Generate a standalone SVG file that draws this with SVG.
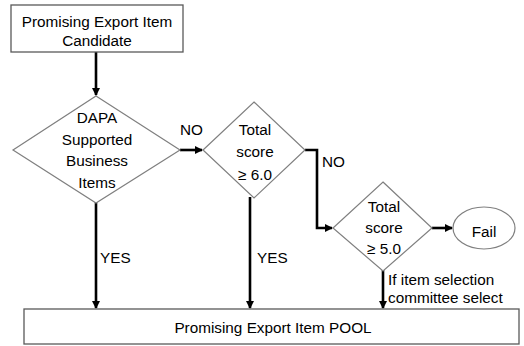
<svg xmlns="http://www.w3.org/2000/svg" width="524" height="346" viewBox="0 0 524 346">
<style>
  .shape { fill: #ffffff; stroke: #7f7f7f; stroke-width: 1.2; }
  .box { fill: #ffffff; stroke: #595959; stroke-width: 1.3; }
  .conn { fill: none; stroke: #000000; stroke-width: 2.6; }
  text { font-family: "Liberation Sans", Arial, sans-serif; font-size: 15.3px; fill: #000000; }
  .c { text-anchor: middle; }
</style>
<defs>
  <marker id="arr" markerWidth="8" markerHeight="8" refX="7" refY="4" orient="auto" markerUnits="userSpaceOnUse">
    <path d="M0,0 L8,4 L0,8 Z" fill="#000000"/>
  </marker>
</defs>
<g id="connectors">
  <line class="conn" x1="96" y1="52" x2="96" y2="95" marker-end="url(#arr)"/>
  <line class="conn" x1="180" y1="150" x2="202" y2="150" marker-end="url(#arr)"/>
  <polyline class="conn" points="305,150 317,150 317,228 332,228" marker-end="url(#arr)"/>
  <line class="conn" x1="432" y1="228" x2="452" y2="228" marker-end="url(#arr)"/>
  <line class="conn" x1="96" y1="202" x2="96" y2="308" marker-end="url(#arr)"/>
  <line class="conn" x1="250" y1="197" x2="250" y2="308" marker-end="url(#arr)"/>
  <line class="conn" x1="383" y1="270" x2="383" y2="308" marker-end="url(#arr)"/>
  <text x="180" y="135">NO</text>
  <text x="322" y="167">NO</text>
  <text x="100" y="263">YES</text>
  <text x="257" y="263">YES</text>
  <text x="388" y="285">If item selection</text>
  <text x="388" y="303">committee select</text>
</g>
<g id="candidate">
  <rect class="box" x="11" y="5" width="172" height="47"/>
  <text class="c" x="97" y="27">Promising Export Item</text>
  <text class="c" x="97" y="46">Candidate</text>
</g>
<g id="dapa">
  <polygon class="shape" points="96,96 180,150 96,203 13,150"/>
  <text class="c" x="97" y="123">DAPA</text>
  <text class="c" x="97" y="145">Supported</text>
  <text class="c" x="97" y="166">Business</text>
  <text class="c" x="97" y="188">Items</text>
</g>
<g id="score6">
  <polygon class="shape" points="254,102 305,150 254,198 203,150"/>
  <text class="c" x="255" y="135">Total</text>
  <text class="c" x="255" y="157">score</text>
  <text class="c" x="255" y="180">≥ 6.0</text>
</g>
<g id="score5">
  <polygon class="shape" points="383,182 432,228 383,271 333,228"/>
  <text class="c" x="384" y="212">Total</text>
  <text class="c" x="384" y="233">score</text>
  <text class="c" x="384" y="254">≥ 5.0</text>
</g>
<g id="fail">
  <ellipse class="shape" cx="484" cy="228" rx="31" ry="21"/>
  <text class="c" x="484" y="237">Fail</text>
</g>
<g id="pool">
  <rect class="box" x="24" y="309" width="495" height="35"/>
  <text class="c" x="273" y="333">Promising Export Item POOL</text>
</g>
</svg>
